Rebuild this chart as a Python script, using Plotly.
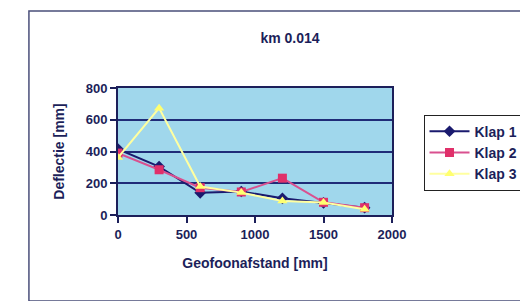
import plotly.graph_objects as go

distance = [0, 300, 600, 900, 1200, 1500, 1800]
klap1 = [415, 305, 140, 148, 105, 76, 46]
klap2 = [390, 285, 172, 145, 232, 80, 46]
klap3 = [362, 673, 179, 141, 88, 78, 36]
series_names = ["Klap 1", "Klap 2", "Klap 3"]
title_text = "km 0.014"
x_title = "Geofoonafstand [mm]"
y_title = "Deflectie [mm]"
x_ticks = [0, 500, 1000, 1500, 2000]
y_ticks = [0, 200, 400, 600, 800]

navy = "#1c1f5a"
fnt = "Liberation Sans"

fig = go.Figure()
fig.add_trace(go.Scatter(x=distance, y=klap1, name="<b>" + series_names[0] + "</b>", mode="lines+markers",
                         line=dict(color="#1a1a6e", width=2),
                         marker=dict(symbol="diamond", size=9, color="#1a1a6e")))
fig.add_trace(go.Scatter(x=distance, y=klap2, name="<b>" + series_names[1] + "</b>", mode="lines+markers",
                         line=dict(color="#d9508f", width=2),
                         marker=dict(symbol="square", size=9, color="#e0306a")))
fig.add_trace(go.Scatter(x=distance, y=klap3, name="<b>" + series_names[2] + "</b>", mode="lines+markers",
                         line=dict(color="#ffffa0", width=2),
                         marker=dict(symbol="triangle-up", size=9, color="#ffff70")))

fig.update_layout(
    width=528, height=301,
    margin=dict(l=110, r=135, t=80, b=94),
    paper_bgcolor="white",
    plot_bgcolor="#a0d7ec",
    font=dict(family=fnt, color=navy, size=13),
    title=dict(text="<b>" + title_text + "</b>", x=282 / 528, xanchor="center",
               y=1 - 30 / 301, yanchor="middle", font=dict(size=14, color=navy)),
    showlegend=True,
    legend=dict(x=1.115, y=0.79, xanchor="left", yanchor="top",
                bordercolor="#222", borderwidth=1, bgcolor="white",
                font=dict(size=14, color=navy, family=fnt),
                tracegroupgap=0, itemwidth=40),
    xaxis=dict(range=[0, 2000], tickvals=x_ticks,
               ticktext=["<b>%d</b>" % v for v in x_ticks],
               showgrid=False, zeroline=False, showline=True, linecolor=navy, linewidth=2,
               mirror=True, ticks="outside", ticklen=6, tickcolor=navy, tickwidth=1.5,
               tickfont=dict(size=13, color=navy),
               title=dict(text="<b>" + x_title + "</b>", font=dict(size=14, color=navy), standoff=18)),
    yaxis=dict(range=[0, 800], tickvals=y_ticks,
               ticktext=["<b>%d</b>" % v for v in y_ticks],
               showgrid=True, gridcolor="#1f2b78", gridwidth=2, zeroline=False,
               showline=True, linecolor=navy, linewidth=2, mirror=True,
               ticks="outside", ticklen=6, tickcolor=navy, tickwidth=1.5,
               tickfont=dict(size=13, color=navy),
               title=dict(text="<b>" + y_title + "</b>", font=dict(size=14, color=navy), standoff=18)),
)

fig.add_shape(type="rect", xref="paper", yref="paper",
              x0=(18 - 110) / 283, x1=(535 - 110) / 283,
              y0=(207 - 293) / 127, y1=(207 - 3) / 127,
              line=dict(color="#4a4f7a", width=1.5), layer="below")

fig.write_html("out.html")
